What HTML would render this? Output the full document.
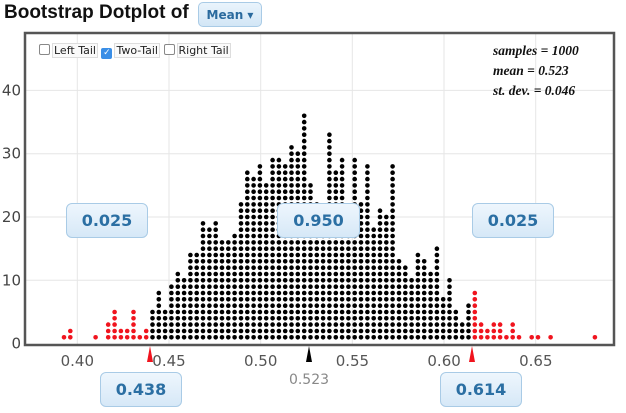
<!DOCTYPE html>
<html><head><meta charset="utf-8"><style>
body{margin:0;width:626px;height:413px;background:#fff;overflow:hidden;font-family:"DejaVu Sans","Liberation Sans",sans-serif;position:relative}
.t{position:absolute;left:4px;top:2px;font-family:"Liberation Sans",sans-serif;font-size:19px;font-weight:bold;color:#111}
.btn{position:absolute;left:198px;top:2px;width:64px;height:25px;border:1px solid #a9cbe6;border-radius:5px;background:linear-gradient(#eaf4fc,#d3e6f6);color:#2a6a9e;font-size:12px;font-weight:bold;line-height:25px;text-align:center;box-sizing:border-box}
.box{position:absolute;border:1px solid #a9cbe6;border-radius:6px;background:linear-gradient(#eef6fd,#d6e8f7);color:#2b6fa3;font-size:16px;font-weight:bold;text-align:center;box-sizing:border-box}
.cb{position:absolute;top:44px;font-size:11px;color:#222}
.cb span.k{display:inline-block;width:9px;height:9px;border:1px solid #888;border-radius:2px;vertical-align:-1px;margin-right:2px;background:#fff}
.cb span.l{border:1px solid #ddd;padding:0 1px;background:#fafafa}
.st{position:absolute;left:493px;top:41px;font-family:"Liberation Serif",serif;font-style:italic;font-weight:bold;font-size:13.5px;line-height:20px;color:#111}
</style></head><body>
<div class="t">Bootstrap Dotplot of</div>
<div class="btn">Mean ▾</div>
<svg id="s" width="626" height="413" style="position:absolute;left:0;top:0"></svg>
<div class="cb" style="left:39px"><span class="k"></span><span class="l">Left Tail</span> <span class="k" style="background:#3a8ee6;border-color:#3a8ee6;color:#fff;font-size:9px;line-height:9px;text-align:center">✓</span><span class="l">Two-Tail</span> <span class="k"></span><span class="l">Right Tail</span></div>
<div class="st">samples = 1000<br>mean = 0.523<br>st. dev. = 0.046</div>
<div class="box" style="left:66px;top:203px;width:82px;height:35px;line-height:33px">0.025</div>
<div class="box" style="left:277px;top:203px;width:83px;height:35px;line-height:33px">0.950</div>
<div class="box" style="left:472px;top:203px;width:82px;height:35px;line-height:33px">0.025</div>
<div class="box" style="left:100px;top:372px;width:82px;height:35px;line-height:33px">0.438</div>
<div class="box" style="left:440px;top:372px;width:82px;height:35px;line-height:33px">0.614</div>
<script>
var h=[1,2,0,0,0,1,0,3,5,2,2,5,1,2,5,8,5,9,11,10,14,14,
19,18,19,16,16,17,22,27,26,28,25,29,29,28,31,30,36,25,22,20,33,27,29,21,29,22,28,18,21,20,28,13,12,10,14,13,11,15,7,10,5,
3,6,8,3,2,3,3,1,3,1,0,1,1,0,1,0,0,0,0,0,0,1];
var s='';
[77.3,169,260.7,352.3,444,535.7].forEach(function(x){s+='<line x1="'+x+'" y1="34" x2="'+x+'" y2="345" stroke="#e6e6e6" stroke-width="1"/>';});
[280.3,217,153.7,90.4].forEach(function(y){s+='<line x1="26" y1="'+y+'" x2="613" y2="'+y+'" stroke="#e6e6e6" stroke-width="1"/>';});
s+='<rect x="25" y="33" width="589" height="312" fill="none" stroke="#555" stroke-width="2.5"/>';
for(var j=0;j<h.length;j++){var x=64+6.32*j;var c=(j<=13||j>=65)?'#f0141e':'#000';
for(var r=0;r<h[j];r++){s+='<circle cx="'+x.toFixed(1)+'" cy="'+(337.3-6.33*r).toFixed(1)+'" r="2.3" fill="'+c+'"/>';}}
var yl=[[0,343.6],[10,280.3],[20,217],[30,153.7],[40,90.4]];
yl.forEach(function(a){s+='<text x="21" y="'+(a[1]+5)+'" text-anchor="end" font-size="15" fill="#444" font-family="DejaVu Sans,sans-serif">'+a[0]+'</text>';});
['0.40','0.45','0.50','0.55','0.60','0.65'].forEach(function(t,i){s+='<text x="'+(77.3+91.7*i)+'" y="366" text-anchor="middle" font-size="15" fill="#555" font-family="DejaVu Sans,sans-serif">'+t+'</text>';});
s+='<polygon points="150,346 147,362 153,362" fill="#f0141e"/>';
s+='<polygon points="472,346 469,362 475,362" fill="#f0141e"/>';
s+='<polygon points="309,346 306,362 312,362" fill="#000"/>';
s+='<text x="309" y="384" text-anchor="middle" font-size="14" fill="#888" font-family="DejaVu Sans,sans-serif">0.523</text>';
document.getElementById('s').innerHTML=s;
</script>
</body></html>
